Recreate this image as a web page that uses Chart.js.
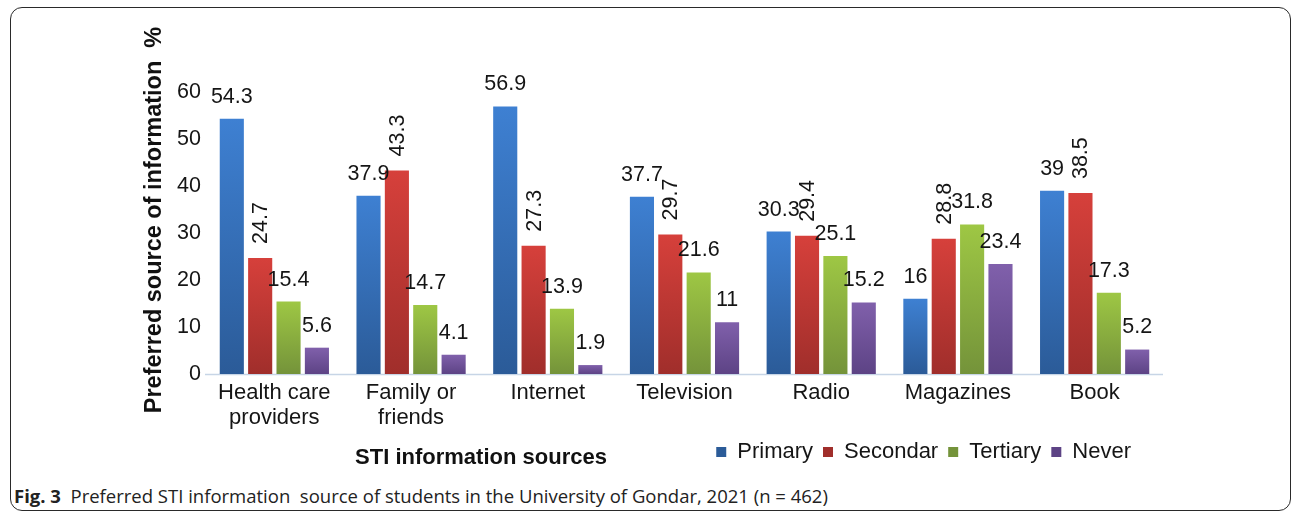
<!DOCTYPE html>
<html>
<head>
<meta charset="utf-8">
<script src="https://cdn.jsdelivr.net/npm/chart.js@4.4.1/dist/chart.umd.min.js"></script>
<style>
  html, body { margin: 0; padding: 0; background: #fff; }
  body { width: 1295px; height: 513px; position: relative; overflow: hidden; font-family: "Liberation Sans", Arial, sans-serif; }
  #frame { position: absolute; left: 10px; top: 7px; width: 1281px; height: 504px; border: 1.3px solid #2a2a2a; border-radius: 12px; box-sizing: border-box; }
  #wrap { position: absolute; left: 0; top: 0; width: 1295px; height: 473px; }
  #xtitle { position: absolute; left: 281px; width: 400px; top: 444px; text-align: center; font: bold 22px "Liberation Sans", Arial, sans-serif; color: #111; }
  #caption { position: absolute; left: 14px; top: 483px; font: 18.5px "Open Sans", "Noto Sans", sans-serif; color: #222; white-space: pre; }
  #caption b { font-weight: 700; }
</style>
</head>
<body>
<div id="frame"></div>
<div id="wrap"><canvas id="c"></canvas></div>
<div id="xtitle">STI information sources</div>
<div id="caption"><b>Fig. 3</b>  Preferred STI information  source of students in the University of Gondar, 2021 (n = 462)</div>
<script>
const categories = [["Health care","providers"], ["Family or","friends"], "Internet", "Television", "Radio", "Magazines", "Book"];
const seriesNames = ["Primary", "Secondar", "Tertiary", "Never"];
const primary   = [54.3, 37.9, 56.9, 37.7, 30.3, 16.0, 39.0];
const secondary = [24.7, 43.3, 27.3, 29.7, 29.4, 28.8, 38.5];
const tertiary  = [15.4, 14.7, 13.9, 21.6, 25.1, 31.8, 17.3];
const never     = [5.6, 4.1, 1.9, 11.0, 15.2, 23.4, 5.2];
const labelText = [
  ["54.3","37.9","56.9","37.7","30.3","16","39"],
  ["24.7","43.3","27.3","29.7","29.4","28.8","38.5"],
  ["15.4","14.7","13.9","21.6","25.1","31.8","17.3"],
  ["5.6","4.1","1.9","11","15.2","23.4","5.2"]
];
const yTicks = [0, 10, 20, 30, 40, 50, 60];
const yTitle = 'Preferred source of information  %';

const FONT = '"Liberation Sans", Arial, sans-serif';
const flat = ["#3a72c2", "#c2393a", "#8cb43e", "#6e4f9b"];
const tops = ["#3e80d2", "#d6403b", "#9ec744", "#8060ab"];
const bots = ["#2b5b98", "#a02e2b", "#74933a", "#5d4385"];

function grad(i) {
  return function(ctx) {
    if (ctx.type !== 'data') return flat[i];
    const chart = ctx.chart;
    const ys = chart.scales && chart.scales.y;
    if (!ys || !chart.chartArea) return flat[i];
    const t = ys.getPixelForValue(ctx.raw);
    const b = ys.getPixelForValue(0);
    if (!isFinite(t) || !isFinite(b) || t === b) return flat[i];
    const g = chart.ctx.createLinearGradient(0, t, 0, b);
    g.addColorStop(0, tops[i]);
    g.addColorStop(1, bots[i]);
    return g;
  };
}

const valueLabels = {
  id: 'valueLabels',
  afterDatasetsDraw(chart) {
    const c = chart.ctx;
    c.save();
    c.fillStyle = '#151515';
    c.font = '21.5px ' + FONT;
    chart.data.datasets.forEach((ds, i) => {
      const meta = chart.getDatasetMeta(i);
      meta.data.forEach((el, j) => {
        const txt = labelText[i][j];
        if (i === 1) {
          c.save();
          c.translate(el.x, el.y - 14);
          c.rotate(-Math.PI / 2);
          c.textAlign = 'left';
          c.textBaseline = 'middle';
          c.fillText(txt, 0, 1);
          c.restore();
        } else {
          c.textAlign = 'center';
          c.textBaseline = 'middle';
          c.fillText(txt, el.x, el.y - 22);
        }
      });
    });
    c.restore();
  }
};

const decorations = {
  id: 'decorations',
  beforeDraw(chart) {
    // nudge legend row to the reference's right edge
    if (chart.legend) chart.legend.right = chart.chartArea.right - 22;
  },
  beforeDatasetsDraw(chart) {
    const {left, right, bottom} = chart.chartArea;
    const c = chart.ctx;
    c.save();
    c.strokeStyle = '#c7d5e6';
    c.lineWidth = 1.5;
    c.beginPath();
    c.moveTo(left - 1, bottom + 0.5);
    c.lineTo(right, bottom + 0.5);
    c.stroke();
    c.restore();
  },
  afterDraw(chart) {
    const c = chart.ctx;
    c.save();
    c.translate(155, 220);
    c.rotate(-Math.PI / 2);
    c.font = 'bold 23.5px ' + FONT;
    c.fillStyle = '#111';
    c.textAlign = 'center';
    c.textBaseline = 'middle';
    c.fillText(yTitle, 0, 0);
    c.restore();
  }
};

new Chart(document.getElementById('c'), {
  type: 'bar',
  data: {
    labels: categories,
    datasets: [
      { label: seriesNames[0], data: primary,   backgroundColor: grad(0) },
      { label: seriesNames[1], data: secondary, backgroundColor: grad(1) },
      { label: seriesNames[2], data: tertiary,  backgroundColor: grad(2) },
      { label: seriesNames[3], data: never,     backgroundColor: grad(3) }
    ]
  },
  options: {
    responsive: true,
    maintainAspectRatio: false,
    animation: false,
    devicePixelRatio: 1,
    layout: { padding: { left: 0, right: 132, top: 92, bottom: 0 } },
    datasets: { bar: { categoryPercentage: 0.83, barPercentage: 0.85, borderWidth: 0 } },
    scales: {
      x: {
        grid: { display: false, drawTicks: false },
        border: { display: false },
        ticks: {
          color: '#151515',
          font: { family: FONT, size: 22, lineHeight: 1.15 },
          padding: 6,
          maxRotation: 0,
          autoSkip: false
        },
        afterFit(scale) { scale.height = 57; }
      },
      y: {
        min: 0, max: 60,
        afterBuildTicks(scale) { scale.ticks = yTicks.map(v => ({ value: v })); },
        grid: { display: false, drawTicks: false },
        border: { display: false },
        ticks: {
          color: '#151515',
          font: { family: FONT, size: 21.5 },
          padding: 5
        },
        afterFit(scale) { scale.width = 206; }
      }
    },
    plugins: {
      legend: {
        position: 'bottom',
        align: 'end',
        labels: {
          boxWidth: 10,
          boxHeight: 10,
          padding: 10,
          color: '#151515',
          font: { family: FONT, size: 22 }
        }
      },
      tooltip: { enabled: false }
    }
  },
  plugins: [decorations, valueLabels]
});
</script>
</body>
</html>
